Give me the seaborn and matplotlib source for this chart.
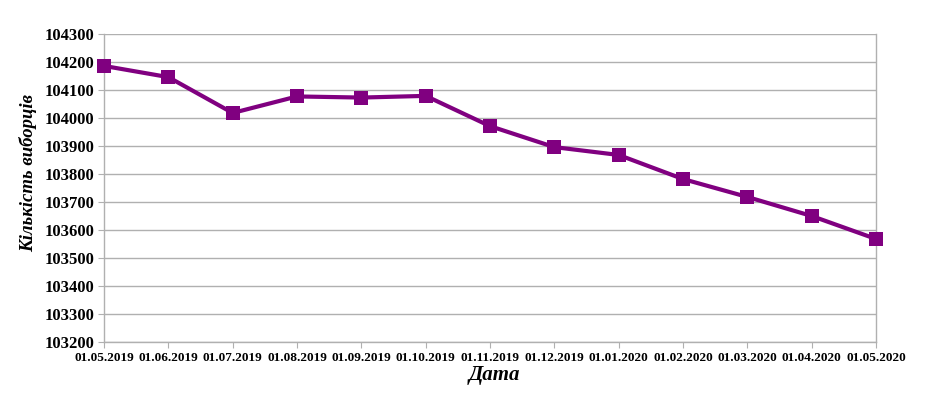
import matplotlib
matplotlib.use("Agg")
import matplotlib.pyplot as plt
import seaborn as sns
import pandas as pd

dates = ["01.05.2019", "01.06.2019", "01.07.2019", "01.08.2019", "01.09.2019",
         "01.10.2019", "01.11.2019", "01.12.2019", "01.01.2020", "01.02.2020",
         "01.03.2020", "01.04.2020", "01.05.2020"]
voters = [104186, 104146, 104018, 104077, 104073, 104079, 103971,
          103896, 103868, 103782, 103718, 103650, 103568]
y_ticks = list(range(103200, 104301, 100))

df = pd.DataFrame({"date": dates, "voters": voters})

sns.set_style("white")
plt.rcParams["font.family"] = ["Liberation Serif", "DejaVu Serif"]
plt.rcParams["text.color"] = "black"
plt.rcParams["axes.labelcolor"] = "black"
plt.rcParams["xtick.labelcolor"] = "black"
plt.rcParams["ytick.labelcolor"] = "black"

fig = plt.figure(figsize=(9.26, 3.99), dpi=100)
ax = fig.add_axes([104 / 926, 1 - 342 / 399, (876 - 104) / 926, (342 - 34) / 399])

sns.lineplot(data=df, x="date", y="voters", ax=ax, color="#800080",
             linewidth=3, marker="s", markersize=10, markeredgewidth=0,
             sort=False, clip_on=False, zorder=5)

ax.set_xlim(0, len(dates) - 1)
ax.set_ylim(y_ticks[0], y_ticks[-1])
ax.set_yticks(y_ticks)
ax.set_yticklabels([str(v) for v in y_ticks], fontsize=12, fontweight="bold")
ax.set_xticks(range(len(dates)))
ax.set_xticklabels(dates, fontsize=9.5, fontweight="bold")

ax.yaxis.grid(True, color="#b0b0b0", linewidth=1)
ax.set_axisbelow(True)
for side in ["left", "bottom", "right"]:
    ax.spines[side].set_visible(True)
    ax.spines[side].set_color("#b0b0b0")
    ax.spines[side].set_linewidth(1)
ax.spines["top"].set_visible(False)
ax.tick_params(axis="both", which="both", length=4, color="#b0b0b0",
               labelcolor="black", direction="out", pad=3, left=True, bottom=True)

ax.set_xlabel("Дата", fontsize=15, fontweight="bold", fontstyle="italic",
              color="black", labelpad=0)
ax.set_ylabel("Кількість виборців", fontsize=13.5, fontweight="bold",
              fontstyle="italic", color="black", labelpad=8)
ax.xaxis.set_label_coords(0.505, -0.075)
ax.yaxis.set_label_coords(-0.087, 0.55)

fig.savefig("out.png", dpi=100)
